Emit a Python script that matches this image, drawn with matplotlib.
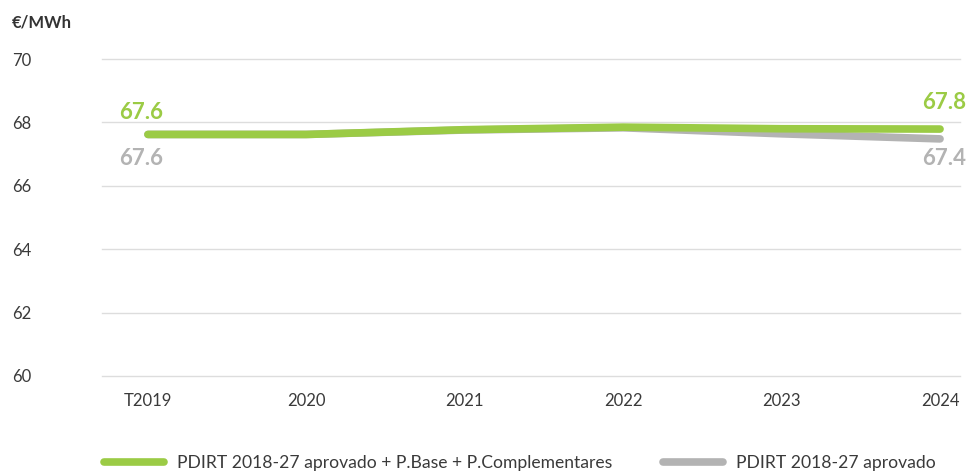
import matplotlib.pyplot as plt

plt.rcParams['font.family'] = ['Lato', 'DejaVu Sans']

years = ['T2019', '2020', '2021', '2022', '2023', '2024']
pdirt_full = [67.62, 67.62, 67.77, 67.85, 67.8, 67.79]
pdirt_base = [67.62, 67.62, 67.76, 67.83, 67.64, 67.48]
label_full = ['67.6', '67.8']
label_base = ['67.6', '67.4']
yticks = [60, 62, 64, 66, 68, 70]

green = '#9bcb45'
grey = '#b3b3b3'
txt = '#3a3a3a'

fig = plt.figure(figsize=(9.78, 4.72), dpi=100)
ax = fig.add_axes([102 / 978, 1 - 376 / 472, (960 - 102) / 978, (376 - 59) / 472])

x = list(range(len(years)))
ax.plot(x, pdirt_base, color=grey, lw=5.5, solid_capstyle='round', zorder=3,
        label='PDIRT 2018-27 aprovado')
ax.plot(x, pdirt_full, color=green, lw=5.5, solid_capstyle='round', zorder=4,
        label='PDIRT 2018-27 aprovado + P.Base + P.Complementares')

ax.set_ylim(60, 70)
ax.set_xlim(-0.29, 5.126)
ax.set_yticks(yticks)
ax.set_xticks(x)
ax.set_xticklabels(years)
ax.grid(axis='y', color='#dddddd', lw=1)
for g in ax.yaxis.get_gridlines():
    g.set_clip_on(False)
ax.set_axisbelow(True)
for s in ax.spines.values():
    s.set_visible(False)
ax.tick_params(length=0, labelsize=12, labelcolor=txt)
ax.tick_params(axis='x', pad=12.5)
ax.tick_params(axis='y', pad=65)
for lab in ax.get_yticklabels():
    lab.set_horizontalalignment('left')

# value labels at first and last points
ax.annotate(label_full[0], (x[0], pdirt_full[0]), xytext=(-5, 16), textcoords='offset points',
            ha='center', va='center', color=green, fontsize=16, fontweight='bold')
ax.annotate(label_base[0], (x[0], pdirt_base[0]), xytext=(-5, -17), textcoords='offset points',
            ha='center', va='center', color=grey, fontsize=16, fontweight='bold')
ax.annotate(label_full[1], (x[-1], pdirt_full[-1]), xytext=(3, 19), textcoords='offset points',
            ha='center', va='center', color=green, fontsize=16, fontweight='bold')
ax.annotate(label_base[1], (x[-1], pdirt_base[-1]), xytext=(3, -14), textcoords='offset points',
            ha='center', va='center', color=grey, fontsize=16, fontweight='bold')

fig.text(12 / 978, 1 - 22 / 472, '€/MWh', ha='left', va='center', fontsize=12,
         fontweight='bold', color='#333333')

h, l = ax.get_legend_handles_labels()
fig.legend(h[::-1], l[::-1], loc='center', bbox_to_anchor=(520 / 978, 1 - 463 / 472), ncol=2,
           frameon=False, fontsize=12.6, handlelength=3.4, handletextpad=0.75,
           columnspacing=2.9, labelcolor=txt)

fig.savefig('out.png', dpi=100)
